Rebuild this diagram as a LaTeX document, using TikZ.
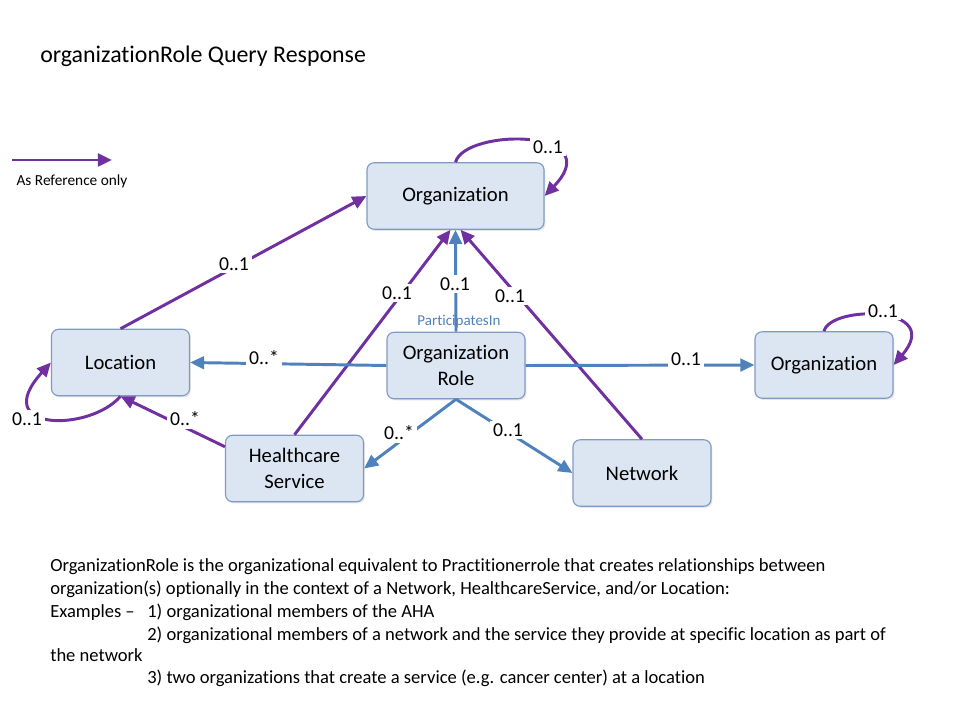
\documentclass[tikz,border=0pt]{standalone}
\usepackage{fontspec}
\setmainfont{Carlito}[Ligatures=NoCommon]
\usetikzlibrary{positioning, arrows.meta, calc, shadows}

\definecolor{boxfill}{HTML}{DCE6F2}
\definecolor{boxline}{HTML}{7F9BC4}
\definecolor{linkblue}{HTML}{4F81BD}
\definecolor{refpurple}{HTML}{7030A0}

\begin{document}
\begin{tikzpicture}[x=0.025cm, y=-0.025cm, >={Triangle[length=10pt, width=9pt]}]

  % Define box and link styles
  \tikzset{
    class box/.style={
      draw=boxline, fill=boxfill, rounded corners=5pt, line width=0.8pt,
      minimum width=3.45cm, minimum height=1.66cm, align=center,
      font=\fontsize{14.7}{18.4}\selectfont,
      drop shadow={opacity=0.2, shadow xshift=1pt, shadow yshift=-1.2pt},
    },
    blue link/.style={->, draw=linkblue, line width=2.1pt},
    ref link/.style={->, draw=refpurple, line width=2.1pt},
    mult/.style={fill=white, inner sep=2pt, font=\fontsize{14}{16}\selectfont},
    note/.style={anchor=base west, inner sep=0pt, font=\fontsize{13.2}{15}\selectfont},
  }

  \useasboundingbox (0,0) rectangle (960,720);

  % Title
  \node[anchor=base west, inner sep=0pt, font=\fontsize{17}{20}\selectfont] (title) at (40,63) {organizationRole Query Response};

  % Legend
  \coordinate (legA) at (12,160);
  \coordinate (legB) at (112,160);
  \draw[ref link] (legA) -- (legB);
  \node[font=\fontsize{10.9}{13}\selectfont] (legtext) at (72,181) {As Reference only};

  % Classes
  \node[class box, minimum width=4.425cm] (orgtop) at (455.5,196) {Organization};
  \node[class box] (loc) at (120.5,362.5) {Location};
  \node[class box] (role) at (456,365.5) {Organization\\Role};
  \node[class box] (orgright) at (824,365) {Organization};
  \node[class box] (hcs) at (294.5,468.5) {Healthcare\\Service};
  \node[class box] (net) at (642,473) {Network};

  % Reference links
  \draw[ref link] (loc.north) -- (orgtop.west);
  \draw[ref link] (hcs.north) -- ($(orgtop.south)+(-5,0)$);
  \draw[ref link] (net.north) -- ($(orgtop.south)+(5,0)$);
  \draw[ref link] ($(hcs.north west)+(0,12)$) -- (loc.south);
  \draw[ref link] (orgtop.north) .. controls (465,128) and (610,128) .. (orgtop.east);
  \draw[ref link] (orgright.north) .. controls (830,305) and (945,305) .. (orgright.east);
  \draw[ref link] (loc.south) .. controls (90,432) and (-12,432) .. (loc.west);

  % Organization Role links
  \draw[blue link] (role.north) -- (orgtop.south);
  \draw[blue link] (role.west) -- (loc.east);
  \draw[blue link] (role.east) -- (orgright.west);
  \draw[blue link] (role.south) -- (hcs.east);
  \draw[blue link] (role.south) -- (net.west);

  % Multiplicities
  \node[mult] (m_loc_org) at (234,264) {0..1};
  \node[mult] (m_hcs_org) at (397,293) {0..1};
  \node[mult] (m_role_org) at (455,284) {0..1};
  \node[mult] (m_net_org) at (510,296) {0..1};
  \node[mult] (m_role_loc) at (264,358) {0..*};
  \node[mult] (m_role_orgr) at (686,359) {0..1};
  \node[mult] (m_role_hcs) at (399,433) {0..*};
  \node[mult] (m_role_net) at (508,430) {0..1};
  \node[mult] (m_hcs_loc) at (185,419) {0..*};
  \node[mult] (m_loc_loc) at (27,419) {0..1};
  \node[mult] (m_org_org) at (548,147) {0..1};
  \node[mult] (m_orgr_orgr) at (883,311) {0..1};
  \node[text=linkblue, inner sep=0pt, font=\fontsize{10.7}{12}\selectfont] (partin) at (459,322) {ParticipatesIn};

  % Description
  \node[note] (d1) at (50,572) {OrganizationRole is the organizational equivalent to Practitionerrole that creates relationships between};
  \node[note] (d2) at (50,595) {organization(s) optionally in the context of a Network, HealthcareService, and/or Location:};
  \node[note] (d3) at (50,617) {Examples --};
  \node[note] (d3b) at (147,617) {1) organizational members of the AHA};
  \node[note] (d4) at (147,640) {2) organizational members of a network and the service they provide at specific location as part of};
  \node[note] (d5) at (50,661) {the network};
  \node[note] (d6) at (147,683) {3) two organizations that create a service (e.g. cancer center) at a location};

\end{tikzpicture}
\end{document}
